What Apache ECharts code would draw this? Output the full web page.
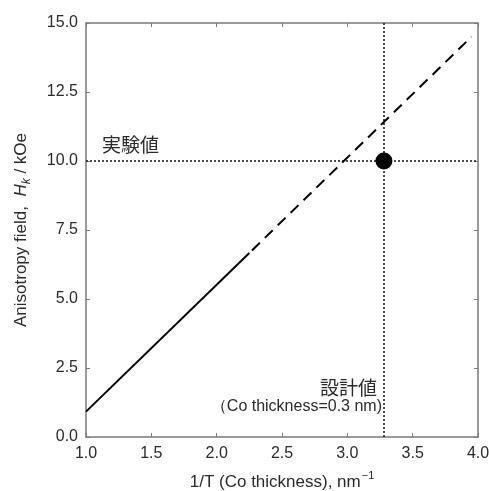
<!DOCTYPE html>
<html><head><meta charset="utf-8">
<script src="https://cdn.jsdelivr.net/npm/echarts@6/dist/echarts.min.js"></script>
<style>html,body{margin:0;padding:0;background:#fff}#c{width:489px;height:491px}</style>
</head><body><div id="c"></div>
<script>
// Data
const solidLine = [[1.0, 0.92], [2.25, 6.67]];
const dashedLine = [[2.27, 6.76], [3.95, 14.5]];
const designPoint = [[3.28, 10.0]];
const expValue = 10.0;     // 実験値 (horizontal dotted)
const designX = 3.28;      // 設計値 (vertical dotted)
const xTicks = [1.0, 4.0, 0.5];   // min, max, interval
const yTicks = [0, 15, 2.5];

const font = '"Liberation Sans", Arial, sans-serif';
const jp = '"Noto Sans CJK JP", sans-serif';
const axisGrey = '#7a7a7a';
const txt = '#2a2a2a';

const chart = echarts.init(document.getElementById('c'));
const mkAxis = (t, show, pos) => ({
  type: 'value', min: t[0], max: t[1], interval: t[2], position: pos,
  axisLine: { show: true, onZero: false, lineStyle: { color: axisGrey, width: 1.5 } },
  axisTick: { show: true, inside: true, length: 4, lineStyle: { color: axisGrey } },
  splitLine: { show: false },
  axisLabel: { show: show, color: txt, fontSize: 16, fontFamily: font,
    formatter: v => v.toFixed(1) }
});
const xMain = Object.assign(mkAxis(xTicks, true, 'bottom'), {
  name: '{a|1/T (Co thickness), nm}{s|−1}', nameLocation: 'middle', nameGap: 33,
  nameTextStyle: { rich: {
    a: { fontSize: 17, color: txt, fontFamily: font, lineHeight: 24 },
    s: { fontSize: 11, color: txt, fontFamily: font, verticalAlign: 'top', lineHeight: 24, padding: [0, 0, 9, 1] }
  } }
});
xMain.axisLabel.margin = 9;
const yMain = Object.assign(mkAxis(yTicks, true, 'left'), {
  name: '{a|Anisotropy field,  }{i|H}{s|k}{a| / kOe}', nameLocation: 'middle', nameGap: 53, nameRotate: 90,
  nameTextStyle: { rich: {
    a: { fontSize: 17, color: txt, fontFamily: font, lineHeight: 24 },
    i: { fontSize: 17, color: txt, fontFamily: font, fontStyle: 'italic', lineHeight: 24 },
    s: { fontSize: 12, color: txt, fontFamily: font, fontStyle: 'italic', verticalAlign: 'bottom', lineHeight: 24, padding: [7, 0, 0, 0] }
  } }
});
yMain.axisLabel.margin = 8;

chart.setOption({
  animation: false,
  grid: { left: 86, right: 11, top: 23, bottom: 54, containLabel: false, outerBoundsMode: 'none' },
  xAxis: [xMain, mkAxis(xTicks, false, 'top')],
  yAxis: [yMain, mkAxis(yTicks, false, 'right')],
  series: [
    { type: 'line', data: solidLine, symbol: 'none', z: 2, lineStyle: { color: '#000', width: 2 },
      markLine: { silent: true, symbol: 'none', label: { show: false }, z: 1,
        lineStyle: { color: '#111', type: [2, 2], width: 1.5 },
        emphasis: { disabled: true },
        data: [{ yAxis: expValue }, { xAxis: designX }] } },
    { type: 'line', data: dashedLine, symbol: 'none', z: 2, lineStyle: { color: '#000', width: 2, type: [11, 7] } },
    { type: 'scatter', data: designPoint, symbol: 'circle', symbolSize: 17, z: 10,
      itemStyle: { color: '#000', opacity: 1 }, emphasis: { disabled: true } }
  ],
  graphic: [
    { type: 'text', left: 102, top: 135, style: { text: '実験値', font: '19px ' + jp, fill: txt } },
    { type: 'text', right: 489 - 377, top: 378, style: { text: '設計値', font: '19px ' + jp, fill: txt } },
    { type: 'text', right: 489 - 382, top: 399, style: { text: '（Co thickness=0.3 nm)', font: '16px ' + font, fill: txt } }
  ]
});
</script></body></html>
